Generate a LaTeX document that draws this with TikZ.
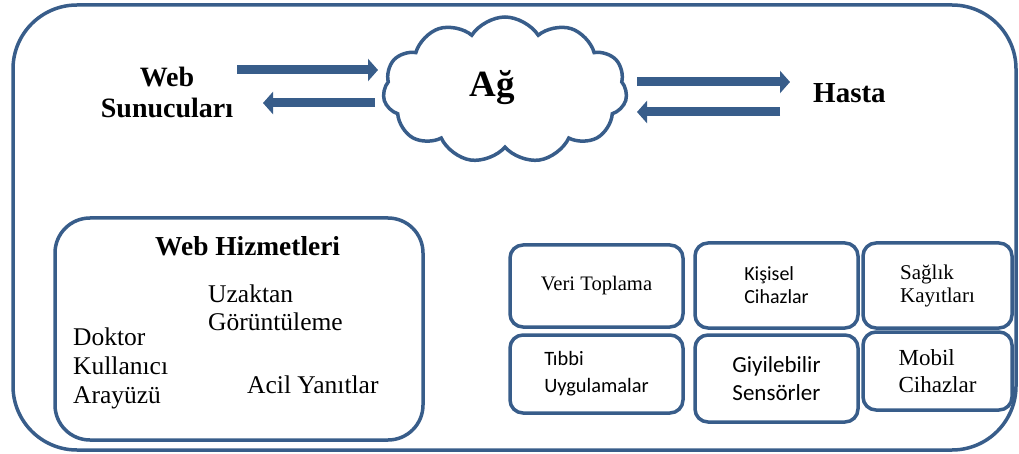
\documentclass[tikz,border=0pt]{standalone}
\usepackage{fontspec}
\setmainfont{Liberation Serif}
\newfontfamily\calib{Carlito}
\usetikzlibrary{shapes.symbols,arrows.meta}
\definecolor{frameblue}{HTML}{385D8A}
\tikzset{
  frame/.style={draw=frameblue, line width=3.5pt, rectangle, inner sep=0pt},
  itembox/.style={draw=frameblue, line width=3.5pt, rectangle, rounded corners=13pt, align=left, inner sep=0pt},
  blockarrow/.style={draw=frameblue, line width=9pt, -{Triangle[width=22pt,length=10pt]}},
  txt/.style={inner sep=0pt, align=left, anchor=base west},
}
\begin{document}
\begin{tikzpicture}[x=1pt,y=-1pt]
\useasboundingbox (0,0) rectangle (1019,454);

% outer frame
\node[frame, rounded corners=64pt, minimum width=1003pt, minimum height=445pt] (outer) at (514.5,227.5) {};

% network cloud
\node[draw=frameblue, line width=3.5pt, cloud, cloud puffs=11, cloud puff arc=115, aspect=1.67,
      minimum width=244pt, minimum height=146pt, inner sep=0pt] (cloud) at (505,90) {};
\node[txt, anchor=base, font=\bfseries\fontsize{37}{40}\selectfont] (ag) at (492,97) {Ağ};

% servers and patient (multi-line nodes are placed by their last baseline)
\node[txt, anchor=base, align=center, font=\bfseries\fontsize{28}{31}\selectfont] (servers) at (167,118) {Web\\Sunucuları};
\node[txt, font=\bfseries\fontsize{29}{32}\selectfont] (patient) at (813,103) {Hasta};

% arrows between servers, cloud and patient
\coordinate (s2c-a) at (237,70);  \coordinate (s2c-b) at (378,70);
\coordinate (c2s-a) at (375,103); \coordinate (c2s-b) at (263,103);
\coordinate (c2p-a) at (637,82);  \coordinate (c2p-b) at (790,82);
\coordinate (p2c-a) at (780,112); \coordinate (p2c-b) at (637,112);
\draw[blockarrow] (s2c-a) -- (s2c-b);
\draw[blockarrow] (c2s-a) -- (c2s-b);
\draw[blockarrow] (c2p-a) -- (c2p-b);
\draw[blockarrow] (p2c-a) -- (p2c-b);

% web services
\node[frame, rounded corners=35pt, minimum width=368pt, minimum height=222pt] (services) at (239,329) {};
\node[txt, font=\bfseries\fontsize{27.4}{30}\selectfont] (svtitle) at (155,255) {Web Hizmetleri};
\node[txt, font=\fontsize{25.5}{28}\selectfont] (remote) at (208,330) {Uzaktan\\Görüntüleme};
\node[txt, font=\fontsize{25.5}{29}\selectfont] (doctor) at (73,403) {Doktor\\Kullanıcı\\Arayüzü};
\node[txt, font=\fontsize{25.5}{29}\selectfont] (emergency) at (247,393) {Acil Yanıtlar};

% patient side components
\node[itembox, minimum width=173pt, minimum height=82pt, font=\fontsize{20.6}{23}\selectfont] (collect) at (596.5,286) {Veri Toplama};
\node[itembox, minimum width=163pt, minimum height=85pt, font=\calib\fontsize{20}{23}\selectfont] (personal) at (776.5,285.5) {Kişisel\\Cihazlar};
\node[itembox, minimum width=149pt, minimum height=85pt, font=\fontsize{21}{23}\selectfont] (records) at (937.5,285.5) {Sağlık\\Kayıtları};
\node[itembox, minimum width=173pt, minimum height=78pt, font=\calib\fontsize{20.4}{27}\selectfont] (medapps) at (596.5,374) {Tıbbi\\Uygulamalar};
\node[itembox, minimum width=163pt, minimum height=87pt, font=\calib\fontsize{23}{28}\selectfont] (wearable) at (776.5,378.5) {Giyilebilir\\Sensörler};
\node[itembox, minimum width=149pt, minimum height=78pt, font=\fontsize{23}{27}\selectfont] (mobile) at (937.5,371) {Mobil\\Cihazlar};
\end{tikzpicture}
\end{document}
